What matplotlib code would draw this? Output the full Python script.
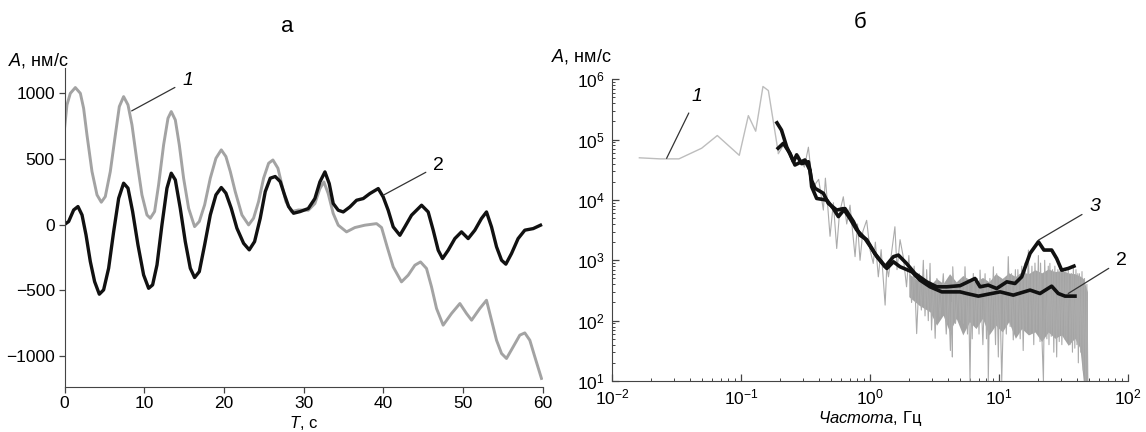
import matplotlib
matplotlib.use('Agg')
from matplotlib import pyplot as plt

plt.rcParams['font.family'] = ['Liberation Sans', 'DejaVu Sans']
plt.rcParams['mathtext.fontset'] = 'custom'
plt.rcParams['mathtext.rm'] = 'Liberation Sans'
plt.rcParams['mathtext.it'] = 'Liberation Sans:italic'

# --- панель а: сигналы во времени ---
t1 = [0, 0.31, 0.73, 1.36, 1.99, 2.40, 2.82, 3.45, 4.08, 4.62,
      5.12, 5.75, 6.38, 6.88, 7.42, 7.97, 8.47, 9.10, 9.72, 10.35,
      10.77, 11.31, 11.81, 12.44, 12.99, 13.40, 13.91, 14.41, 14.95, 15.58,
      16.33, 16.92, 17.59, 18.30, 19.01, 19.68, 20.26, 20.81, 21.43, 22.27,
      23.11, 23.73, 24.36, 24.99, 25.62, 26.16, 26.79, 27.29, 27.79, 28.5,
      29.38, 30.6, 31.43, 32.06, 32.56, 33.1, 33.73, 34.36, 35.4, 36.45,
      37.7, 39.17, 39.8, 40.5, 41.26, 42.3, 43.14, 43.98, 44.69, 45.44,
      46.07, 46.7, 47.53, 48.58, 49.63, 50.46, 51.1, 52.13, 52.97, 53.6,
      54.23, 54.86, 55.48, 56.32, 57.15, 57.78, 58.41, 59.04, 59.87]
v1 = [730, 912, 1000, 1044, 1000, 886, 683, 404, 226, 170,
      213, 404, 683, 899, 975, 912, 759, 480, 226, 73,
      48, 99, 302, 607, 810, 861, 797, 607, 353, 124,
      -16, 23, 150, 353, 505, 569, 518, 404, 251, 73,
      -3, 48, 175, 353, 467, 492, 429, 302, 175, 99,
      111, 109, 160, 274, 325, 236, 84, -5, -56, -23,
      -5, 7, -23, -170, -323, -437, -386, -310, -285, -335,
      -475, -640, -767, -678, -602, -678, -729, -640, -577, -729,
      -882, -983, -1021, -932, -843, -826, -882, -1009, -1173]

t2 = [0, 0.52, 1.15, 1.69, 2.20, 2.70, 3.24, 3.78, 4.37, 4.91,
      5.54, 6.17, 6.80, 7.42, 7.97, 8.55, 9.22, 9.93, 10.56, 11.06,
      11.61, 12.23, 12.86, 13.40, 13.91, 14.53, 15.16, 15.79, 16.33, 16.92,
      17.59, 18.30, 19.01, 19.68, 20.26, 20.93, 21.64, 22.48, 23.19, 23.86,
      24.57, 25.20, 25.83, 26.45, 27.08, 27.62, 28.13, 28.75, 29.59, 30.6,
      31.43, 32.06, 32.69, 33.23, 33.73, 34.36, 34.99, 35.82, 36.66, 37.5,
      38.33, 39.38, 40.0, 40.63, 41.26, 42.1, 42.72, 43.56, 44.82, 45.65,
      46.28, 46.91, 47.45, 48.16, 49.0, 49.83, 50.67, 51.51, 52.34, 52.97,
      53.6, 54.23, 54.86, 55.4, 56.11, 56.94, 57.78, 58.83, 59.75]
v2 = [0, 23, 111, 137, 73, -79, -282, -435, -531, -498,
      -333, -54, 200, 315, 277, 99, -155, -384, -486, -460,
      -308, -3, 277, 391, 340, 124, -130, -333, -404, -359,
      -155, 73, 226, 282, 239, 124, -28, -143, -193, -130,
      48, 251, 353, 366, 327, 226, 137, 86, 99, 122,
      198, 325, 401, 312, 160, 109, 96, 134, 185, 198,
      236, 274, 211, 109, -18, -82, -18, 71, 147, 96,
      -43, -196, -259, -196, -107, -56, -107, -43, 46, 96,
      -18, -170, -272, -302, -221, -107, -43, -31, -5]

# --- панель б: спектры ---
f_low = [0.0163, 0.0236, 0.033, 0.0495, 0.0655, 0.097, 0.114, 0.13, 0.148, 0.163, 0.195]
a_low = [5.0e4, 4.8e4, 4.8e4, 7.2e4, 1.17e5, 5.5e4, 2.5e5, 1.38e5, 7.6e5, 6.5e5, 5.9e4]

f_spec = [0.195, 0.22, 0.25, 0.28, 0.31, 0.333, 0.36, 0.40, 0.435, 0.451,
          0.47, 0.49, 0.52, 0.552, 0.58, 0.621, 0.66, 0.70, 0.766, 0.80,
          0.837, 0.88, 0.942, 1.0, 1.06, 1.10, 1.16, 1.22, 1.31, 1.35,
          1.39, 1.56, 1.62, 1.71, 1.81, 1.92, 2.0, 2.1, 2.2, 2.3,
          2.41, 2.5, 2.59, 2.67, 2.75, 2.83, 2.92, 3.0, 3.1, 3.2,
          3.3, 3.49, 3.7, 3.9, 4.05, 4.2, 4.3, 4.35, 4.38, 4.6,
          4.84, 5.0, 5.14, 5.3, 5.45, 5.7, 5.8, 5.96, 6.1, 6.2,
          6.32, 6.6, 6.8, 7.0, 7.13, 7.5, 7.8, 8.0, 8.15, 8.26,
          8.5, 8.8, 9.04, 9.4, 9.6, 9.88, 10.1, 10.5, 11.0, 11.4,
          11.8, 12.2, 12.5, 12.9, 13.4, 13.8, 14.0, 14.6, 15.0, 15.4,
          15.9, 16.3, 16.9, 17.4, 18.0, 18.6, 19.0, 19.6, 20.2, 20.8,
          21.0, 21.6, 22.1, 22.6, 23.5, 24.1, 24.4, 24.8, 25.4, 26.0,
          26.6, 27.1, 28.0, 28.6, 29.3, 30.0, 30.7, 31.5, 32.4, 33.0,
          33.5, 34.4, 35.5, 36.5, 37.1, 37.7, 38.7, 39.5, 40.2, 40.8,
          41.2, 42.0, 43.0, 44.0, 45.0, 46.0, 47.0, 48.0, 49.0]
a_spec = [5.9e4, 9e4, 4.5e4, 5.5e4, 3.5e4, 7.5e4, 1.6e4, 2.2e4, 6.8e3, 2.3e4,
          8e3, 2.5e3, 9e3, 1.57e3, 6e3, 1.13e4, 4e3, 8.2e3, 1.15e3, 4e3,
          1.0e3, 3e3, 4.6e3, 1.5e3, 887, 2e3, 533, 1.5e3, 181, 800,
          533, 3.6e3, 700, 2.2e3, 1.15e3, 364, 1.2e3, 200, 800, 61,
          600, 150, 1.0e3, 120, 700, 100, 890, 70, 400, 51,
          500, 115, 600, 60, 300, 32, 200, 25, 782, 90,
          400, 102, 500, 90, 782, 60, 400, 10, 300, 50,
          605, 80, 500, 60, 689, 40, 600, 50, 400, 10,
          500, 70, 782, 40, 600, 25, 500, 10, 500, 60,
          1150, 80, 600, 48, 700, 60, 700, 50, 800, 32,
          900, 70, 1480, 60, 800, 40, 900, 70, 1200, 45,
          900, 40, 10, 1000, 50, 800, 40, 890, 55, 700,
          30, 800, 25, 700, 45, 800, 40, 700, 50, 650,
          48, 700, 40, 600, 30, 782, 35, 700, 40, 600,
          20, 600, 30, 650, 15, 500, 8, 400, 5]

f_band = [2.0, 2.4, 2.92, 3.28, 3.69, 4.14, 4.66, 5.24, 5.90, 6.63,
          7.45, 8.37, 9.41, 10.6, 11.9, 13.4, 15.0, 16.9, 19.0, 21.4,
          24.1, 27.1, 30.5, 34.4, 38.7, 42.4, 45.0, 46.5, 48.5]
band_hi = [600, 450, 388, 500, 413, 600, 440, 560, 480, 440,
           520, 440, 600, 500, 620, 540, 650, 600, 700, 620,
           720, 650, 680, 620, 600, 550, 500, 400, 300]
band_lo = [250, 180, 140, 84, 123, 65, 109, 58, 96, 74,
           109, 58, 84, 65, 96, 51, 74, 58, 65, 45,
           65, 51, 58, 39, 51, 35, 10, 5, 5]

f3 = [0.19, 0.206, 0.226, 0.255, 0.270, 0.295, 0.333, 0.353, 0.375, 0.435,
      0.475, 0.552, 0.621, 0.700, 0.788, 0.914, 1.03, 1.13, 1.31, 1.52,
      1.66, 1.92, 2.23, 2.75, 3.29, 3.93, 4.99, 6.14, 6.51, 7.13,
      8.26, 9.59, 11.5, 13.3, 15.0, 17.4, 20.2, 22.3, 25.6, 28.0,
      30.6, 34.4, 38.1]
a3 = [1.9e5, 1.44e5, 7.6e4, 4.3e4, 5.6e4, 4.0e4, 4.3e4, 2.1e4, 1.56e4, 1.29e4,
      8.8e3, 6.8e3, 7.2e3, 4.9e3, 3.2e3, 2.3e3, 1.57e3, 1.15e3, 782, 1150,
      1220, 887, 605, 440, 364, 364, 380, 470, 500, 364,
      388, 341, 440, 413, 533, 1300, 2030, 1480, 1480, 1070,
      687, 733, 801]

f2 = [0.194, 0.213, 0.240, 0.262, 0.313, 0.343, 0.353, 0.386, 0.462, 0.520,
      0.569, 0.640, 0.743, 0.837, 0.943, 1.09, 1.35, 1.52, 1.71, 2.11,
      2.44, 2.92, 3.60, 4.99, 5.61, 6.92, 8.26, 10.2, 12.9, 17.4,
      20.8, 25.6, 28.8, 32.5, 38.8]
a2 = [7.2e4, 8.7e4, 5.9e4, 3.8e4, 4.6e4, 3.1e4, 1.66e4, 1.06e4, 9.96e3, 7.2e3,
      5.3e3, 7.2e3, 4.4e3, 2.6e3, 2.2e3, 1.3e3, 733, 946, 782, 646,
      470, 364, 300, 300, 282, 255, 275, 300, 265, 321,
      282, 373, 282, 255, 255]

W, H = 1146, 432
fig = plt.figure(figsize=(W / 100, H / 100), dpi=100)
spine_c = '#444444'
lead = dict(arrowstyle='-', color='#333333', lw=0.9, shrinkA=4, shrinkB=0)

# ---------- а ----------
ax1 = fig.add_axes([64.5 / W, 1 - 386.7 / H, 478 / W, 318.7 / H])
ax1.plot(t1, v1, color='#a3a3a3', lw=2.1)
ax1.plot(t2, v2, color='#111111', lw=2.4)
ax1.set_xlim(0, 60)
ax1.set_ylim(-1236, 1193)
ax1.set_xticks(range(0, 61, 10))
ax1.set_yticks([-1000, -500, 0, 500, 1000])
for s in ['top', 'right']:
    ax1.spines[s].set_visible(False)
for s in ['left', 'bottom']:
    ax1.spines[s].set_color(spine_c)
ax1.tick_params(direction='out', length=4, width=0.9, color=spine_c, labelsize=12.5, pad=3)
ax1.set_xlabel(r'$\mathit{T}$, с', fontsize=12, labelpad=2)

ax1.annotate('1', xy=(8.43, 866), xytext=(15.5, 1099), fontsize=14, style='italic',
             ha='center', va='center', arrowprops=lead)
ax1.annotate('2', xy=(40.0, 223), xytext=(47.0, 452), fontsize=14,
             ha='center', va='center', arrowprops=lead)

# ---------- б ----------
ax2 = fig.add_axes([612 / W, 1 - 381 / H, 516 / W, 301.7 / H])
ax2.set_xscale('log')
ax2.set_yscale('log')
ax2.fill_between(f_band, band_lo, band_hi, color='#a3a3a3', lw=0)
ax2.plot(f_spec, a_spec, color='#ababab', lw=0.8)
ax2.plot(f_low, a_low, color='#bdbdbd', lw=1.0)
ax2.plot(f2, a2, color='#111111', lw=2.6)
ax2.plot(f3, a3, color='#111111', lw=2.6)
ax2.set_xlim(1e-2, 1e2)
ax2.set_ylim(1e1, 1e6)
for s in ['top', 'right']:
    ax2.spines[s].set_visible(False)
for s in ['left', 'bottom']:
    ax2.spines[s].set_color(spine_c)
ax2.tick_params(which='major', direction='in', length=5, width=0.9, color=spine_c,
                labelsize=12.5, pad=5)
ax2.tick_params(which='minor', direction='in', length=2.5, width=0.7, color=spine_c)
ax2.set_xlabel(r'$\mathit{Частота}$, Гц', fontsize=12, labelpad=1)

ax2.annotate('1', xy=(0.0265, 4.9e4), xytext=(0.0454, 5.14e5), fontsize=14, style='italic',
             ha='center', va='center', arrowprops=lead)
ax2.annotate('3', xy=(20.2, 2.16e3), xytext=(55.5, 7.7e3), fontsize=14, style='italic',
             ha='center', va='center', arrowprops=lead)
ax2.annotate('2', xy=(34.4, 282), xytext=(89.3, 1.0e3), fontsize=14,
             ha='center', va='center', annotation_clip=False, arrowprops=lead)

# заголовки и подписи осей
fig.text(287 / W, 1 - 26 / H, 'а', fontsize=16, ha='center', va='center')
fig.text(860 / W, 1 - 22 / H, 'б', fontsize=16, ha='center', va='center')
fig.text(8 / W, 1 - 60 / H, r'$\mathit{A}$, нм/с', fontsize=13, ha='left', va='center')
fig.text(551 / W, 1 - 56 / H, r'$\mathit{A}$, нм/с', fontsize=13, ha='left', va='center')

fig.savefig('out.png', dpi=100, facecolor='white')
